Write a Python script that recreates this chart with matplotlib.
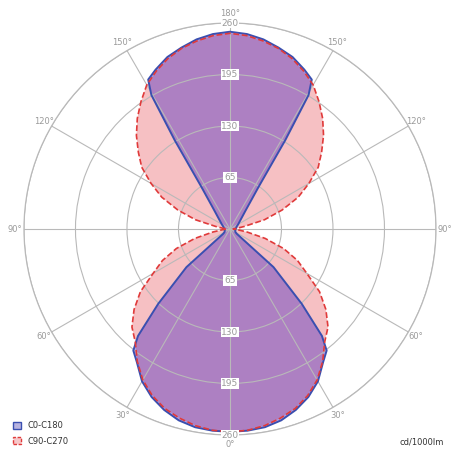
import numpy as np
import matplotlib
matplotlib.use("Agg")
import matplotlib.pyplot as plt
from matplotlib.patches import Patch

# Luminous intensity (cd/1000lm) versus gamma angle, one half-plane each (symmetric)
gamma_c0 = [0, 5, 10, 15, 20, 25, 30, 35, 38.5, 40.7, 43.8, 48.8, 54.5, 60, 70, 80, 90,
            100, 110, 120, 130, 140, 145.8, 148.1, 149.6, 151.3, 155, 160, 165, 170, 175, 180]
intensity_c0 = [256, 255.5, 254, 250, 243, 234, 222, 205, 196, 178, 131, 73, 11, 8, 7, 7, 7,
                8, 9, 12, 17, 31, 64, 132, 196, 215, 222, 231, 237, 243, 247, 249]

gamma_c90 = [0, 5, 10, 15, 20, 25, 30, 35, 40, 45, 50, 55, 60, 65, 70, 75, 80, 85, 90,
             95, 100, 105, 110, 115, 120, 125, 130, 135, 140, 145, 150, 155, 160, 165, 170, 175, 180]
intensity_c90 = [256, 255, 252, 247, 241, 232, 220, 204, 186, 175, 158, 138, 112, 94, 72, 46, 22, 9, 4,
                 8, 18, 45, 70, 95, 115, 136, 151, 167, 182, 196, 210, 220, 229, 236, 241, 245, 247]

series_labels = ["C0-C180", "C90-C270"]
ring_values = [65, 130, 195, 260]
angle_ticks = list(range(0, 360, 30))
angle_labels = ["0°", "30°", "60°", "90°", "120°", "150°", "180°",
                "150°", "120°", "90°", "60°", "30°"]
unit_label = "cd/1000lm"

GRID = "#b9b9b9"
TXT = "#9a9a9a"
BLUE_LINE = "#3a4fb0"
BLUE_FILL = (0.40, 0.26, 0.76, 0.50)
RED_LINE = "#e03a3a"
RED_FILL = (0.95, 0.62, 0.64, 0.65)


def full_plane(gamma, values):
    g = np.asarray(gamma, dtype=float)
    v = np.asarray(values, dtype=float)
    # right half (0..180) then the mirrored left half back to 0
    theta = np.concatenate([g, 360 - g[::-1]])
    r = np.concatenate([v, v[::-1]])
    return np.deg2rad(theta), r


fig = plt.figure(figsize=(4.55, 4.5), dpi=100)
ax = fig.add_axes([0.0527, 0.0333, 0.9055, 0.9156], projection="polar")
ax.set_theta_zero_location("S")
ax.set_theta_direction(1)
ax.set_ylim(0, 260)
ax.set_axisbelow("line")

t90, r90 = full_plane(gamma_c90, intensity_c90)
t0, r0 = full_plane(gamma_c0, intensity_c0)

ax.fill(t90, r90, color=RED_FILL, lw=0, zorder=1)
ax.fill(t0, r0, color=BLUE_FILL, lw=0, zorder=1.1)
ax.plot(t0, r0, color=BLUE_LINE, lw=1.4, zorder=3)
ax.plot(t90, r90, color=RED_LINE, lw=1.2, ls=(0, (3.5, 1.6)), zorder=3.1)

ax.set_rgrids(ring_values, labels=[])
ax.set_thetagrids(angle_ticks, labels=angle_labels)
ax.tick_params(axis="x", colors=TXT, labelsize=6, pad=-4)
ax.grid(True, color=GRID, lw=0.8)
ax.spines["polar"].set_color(GRID)
ax.spines["polar"].set_linewidth(0.9)

for rv in ring_values:
    for th in (np.pi, 0.0):
        ax.text(th, rv, str(rv), color=TXT, fontsize=6.5, ha="center", va="center",
                zorder=4, bbox=dict(facecolor="white", edgecolor="none", pad=0.6))

handles = [Patch(facecolor=(0.72, 0.70, 0.88), edgecolor=BLUE_LINE, lw=1.0),
           Patch(facecolor=(0.97, 0.78, 0.79), edgecolor=RED_LINE, lw=1.0, ls=(0, (2.5, 1.2)))]
fig.legend(handles, series_labels, loc="lower left", bbox_to_anchor=(0.028, 0.010),
           bbox_transform=fig.transFigure, frameon=False, fontsize=6,
           handlelength=0.95, handleheight=0.95, handletextpad=0.8,
           labelspacing=0.75, borderpad=0, borderaxespad=0, labelcolor="#333333")

fig.text(0.879, 0.017, unit_label, fontsize=6, color="#333333", ha="left", va="center")

fig.savefig("out.png", dpi=100)
